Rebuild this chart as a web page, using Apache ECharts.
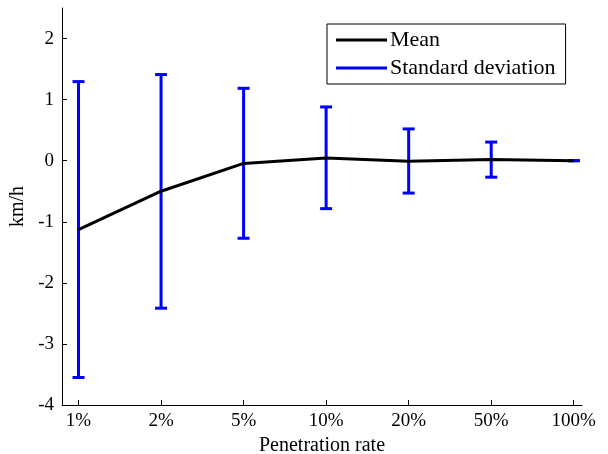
<!DOCTYPE html>
<html>
<head>
<meta charset="utf-8">
<script src="https://cdn.jsdelivr.net/npm/echarts@6/dist/echarts.min.js"></script>
<style>
  html, body { margin: 0; padding: 0; background: #fff; }
  #chart { width: 608px; height: 454px; }
</style>
</head>
<body>
<div id="chart"></div>
<script>
// Penetration rate categories (plotted at positions 1..7)
const rates = ['1%', '2%', '5%', '10%', '20%', '50%', '100%'];
const positions = [1, 2, 3, 4, 5, 6, 7];
// Mean speed deviation (km/h)
const meanValues = [-1.13, -0.50, -0.045, 0.045, -0.01, 0.02, 0.0];
// Standard deviation band limits (km/h)
const lowerValues = [-3.55, -2.415, -1.27, -0.785, -0.53, -0.27, 0.0];
const upperValues = [1.295, 1.41, 1.185, 0.88, 0.52, 0.305, 0.0];
const yTicks = [-4, -3, -2, -1, 0, 1, 2];

const serif = 'Liberation Serif';
const blue = '#0000ff';

const meanData = positions.map((p, i) => [p, meanValues[i]]);
const barData = positions.map((p, i) => [p, lowerValues[i], upperValues[i]]);

const chart = echarts.init(document.getElementById('chart'), null, { renderer: 'canvas' });

chart.setOption({
  animation: false,
  backgroundColor: '#fff',
  textStyle: { fontFamily: serif, color: '#000' },
  grid: { left: 62, right: 26, top: 8, bottom: 49, containLabel: false, outerBoundsMode: 'none' },
  legend: {
    orient: 'vertical',
    left: 327,
    top: 24,
    padding: [5, 10, 5, 9],
    itemGap: 6,
    itemWidth: 51,
    itemHeight: 3,
    borderColor: '#000',
    borderWidth: 1,
    backgroundColor: '#fff',
    textStyle: { fontFamily: serif, fontSize: 22, color: '#000', padding: [0, 0, 0, -2] },
    data: [
      { name: 'Mean', icon: 'rect', itemStyle: { color: '#000' } },
      { name: 'Standard deviation', icon: 'rect', itemStyle: { color: blue } }
    ]
  },
  xAxis: {
    type: 'value',
    min: 0.8,
    max: 7.1,
    name: 'Penetration rate',
    nameLocation: 'middle',
    nameGap: 26,
    nameTextStyle: { fontFamily: serif, fontSize: 20, color: '#000' },
    axisLine: { show: true, onZero: false, lineStyle: { color: '#000', width: 1 } },
    axisTick: { show: true, inside: true, length: 5, customValues: positions, lineStyle: { color: '#000' } },
    axisLabel: {
      customValues: positions,
      margin: 7,
      fontFamily: serif,
      fontSize: 19,
      color: '#000',
      formatter: v => rates[Math.round(v) - 1]
    },
    splitLine: { show: false }
  },
  yAxis: {
    type: 'value',
    min: -4,
    max: 2.5,
    interval: 1,
    name: 'km/h',
    nameLocation: 'middle',
    nameGap: 27,
    nameRotate: 90,
    nameTextStyle: { fontFamily: serif, fontSize: 20, color: '#000' },
    axisLine: { show: true, lineStyle: { color: '#000', width: 1 } },
    axisTick: { show: true, inside: true, length: 5, customValues: yTicks, lineStyle: { color: '#000' } },
    axisLabel: {
      customValues: yTicks,
      margin: 8,
      fontFamily: serif,
      fontSize: 19,
      color: '#000'
    },
    splitLine: { show: false }
  },
  series: [
    {
      name: 'Standard deviation',
      type: 'custom',
      itemStyle: { color: blue },
      z: 2,
      data: barData,
      encode: { x: 0, y: [1, 2] },
      renderItem: function (params, api) {
        const x = api.value(0);
        const lo = api.coord([x, api.value(1)]);
        const hi = api.coord([x, api.value(2)]);
        const half = 6;
        const style = { stroke: blue, lineWidth: 3, fill: null };
        return {
          type: 'group',
          children: [
            { type: 'line', shape: { x1: lo[0], y1: lo[1], x2: hi[0], y2: hi[1] }, style: style },
            { type: 'line', shape: { x1: lo[0] - half, y1: lo[1], x2: lo[0] + half, y2: lo[1] }, style: style },
            { type: 'line', shape: { x1: hi[0] - half, y1: hi[1], x2: hi[0] + half, y2: hi[1] }, style: style }
          ]
        };
      }
    },
    {
      name: 'Mean',
      type: 'line',
      z: 3,
      data: meanData,
      symbol: 'none',
      itemStyle: { color: '#000' },
      lineStyle: { color: '#000', width: 3 }
    }
  ]
});
</script>
</body>
</html>
